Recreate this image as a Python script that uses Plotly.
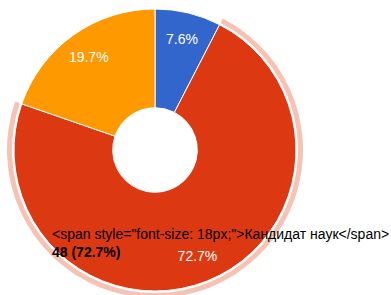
import plotly.graph_objects as go

labels = ["Доктор наук", "Кандидат наук", "Без учёной степени"]
values = [5, 48, 13]
colors = ["#3366cc", "#dc3912", "#ff9900"]
highlight_index = 1
ring_color = "#f4c3b6"

W, H = 391, 300             # figure a bit taller than the window so the ring can be clipped at bottom
cx, cy, r = 155, 150, 141   # pie center / radius in px (from top-left)
ring_r = 148
FONT = "Arial, Liberation Sans, sans-serif"

total = sum(values)
pct = values[highlight_index] / total * 100

fig = go.Figure()

# highlight ring around selected slice
ring_colors = [ring_color if i == highlight_index else "rgba(0,0,0,0)" for i in range(len(values))]
fig.add_trace(go.Pie(
    labels=labels, values=values, sort=False, direction="clockwise", rotation=0,
    marker=dict(colors=ring_colors, line=dict(width=0)),
    hole=143 / ring_r, textinfo="none", hoverinfo="skip", showlegend=False,
    domain=dict(x=[(cx - ring_r) / W, (cx + ring_r) / W], y=[0, 1]),
))

dom = dict(x=[(cx - r) / W, (cx + r) / W], y=[(H - cy - r) / H, (H - cy + r) / H])

# main donut
fig.add_trace(go.Pie(
    labels=labels, values=values, sort=False, direction="clockwise", rotation=0,
    marker=dict(colors=colors, line=dict(color="white", width=1)),
    hole=0.30, textinfo="none", hoverinfo="skip", showlegend=False,
    domain=dom,
))

# transparent overlay only for placing slice labels further out
fig.add_trace(go.Pie(
    labels=labels, values=values, sort=False, direction="clockwise", rotation=0,
    marker=dict(colors=["rgba(0,0,0,0)"] * len(values), line=dict(width=0)),
    hole=0.62, texttemplate="%{percent:.1%}", textposition="inside",
    insidetextorientation="horizontal",
    textfont=dict(family=FONT, size=14, color="white"),
    hoverinfo="skip", showlegend=False,
    domain=dom,
))

tooltip = ('&lt;span style="font-size: 18px;"&gt;' + labels[highlight_index] + '&lt;/span&gt;'
           + f"<br><b>{values[highlight_index]} ({pct:.1f}%)</b>")
fig.add_annotation(
    x=50 / W, y=(H - 243) / H, xref="paper", yref="paper", xanchor="left", yanchor="middle",
    text=tooltip, showarrow=False, align="left",
    font=dict(family=FONT, size=14, color="black"),
)

fig.update_layout(
    width=W, height=H, margin=dict(l=0, r=0, t=0, b=0),
    paper_bgcolor="white", plot_bgcolor="white",
)
fig.write_html("out.html", config={"displayModeBar": False},
               post_script="document.body.style.margin='0px';document.body.style.overflow='hidden';")
